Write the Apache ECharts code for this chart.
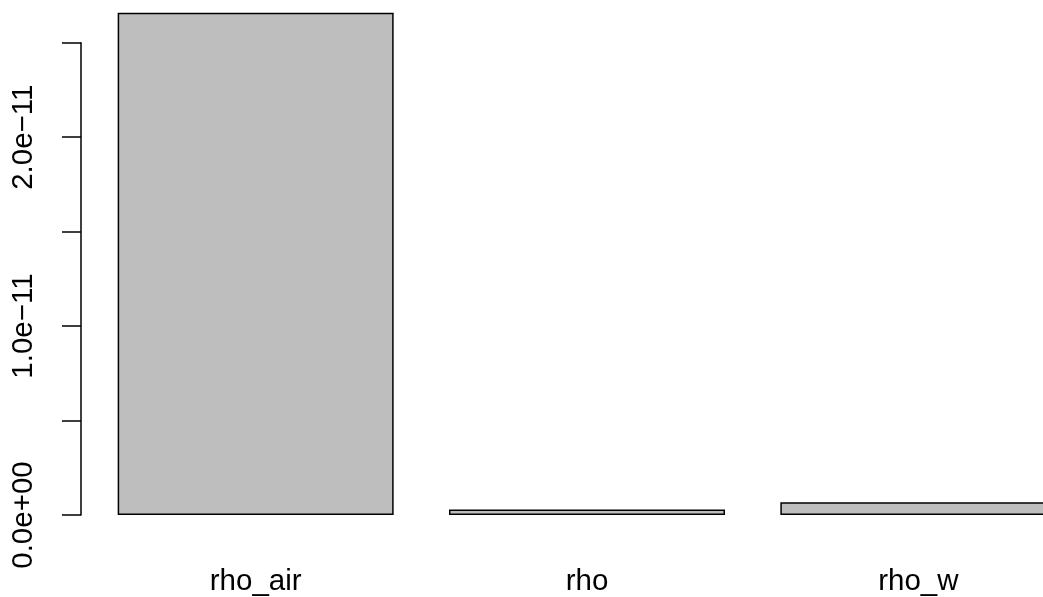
<!DOCTYPE html>
<html><head><meta charset="utf-8">
<script src="https://cdn.jsdelivr.net/npm/echarts@6/dist/echarts.min.js"></script>
<style>html,body{margin:0;padding:0;background:#fff;overflow:hidden}#c{width:1100px;height:597px}</style>
</head><body><div id="c"></div>
<script>
const categories = ['rho_air', 'rho', 'rho_w'];
const values = [2.659e-11, 2.95e-13, 6.8e-13];
const yTickLabels = ['0.0e+00', '', '1.0e\u221211', '', '2.0e\u221211', ''];
const yStep = 5e-12;

const chart = echarts.init(document.getElementById('c'), null, {renderer: 'canvas'});
const font = 'Liberation Sans, Arial, Helvetica, sans-serif';
chart.setOption({
  animation: false,
  backgroundColor: '#ffffff',
  grid: {left: 90, right: 16, top: 42.7, bottom: 79.7, containLabel: false},
  xAxis: {
    type: 'category', data: categories,
    axisLine: {show: false}, axisTick: {show: false},
    axisLabel: {color: '#000', fontFamily: font, fontSize: 29.5, margin: 52, verticalAlign: 'top', interval: 0}
  },
  yAxis: {
    type: 'value', min: 0, max: 2.5e-11, interval: yStep, offset: 9,
    splitLine: {show: false},
    axisLine: {show: true, lineStyle: {color: '#000', width: 1.5}},
    axisTick: {show: true, length: 19, lineStyle: {color: '#000', width: 1.5}},
    axisLabel: {
      color: '#000', fontFamily: font, fontSize: 29.5, rotate: 90, margin: 57,
      align: 'center', verticalAlign: 'middle',
      formatter: v => yTickLabels[Math.round(v / yStep)] || ''
    }
  },
  series: [{
    type: 'bar', data: values, barWidth: 276, clip: false,
    itemStyle: {color: '#bebebe', borderColor: '#000', borderWidth: 1.5}
  }]
});
</script></body></html>
